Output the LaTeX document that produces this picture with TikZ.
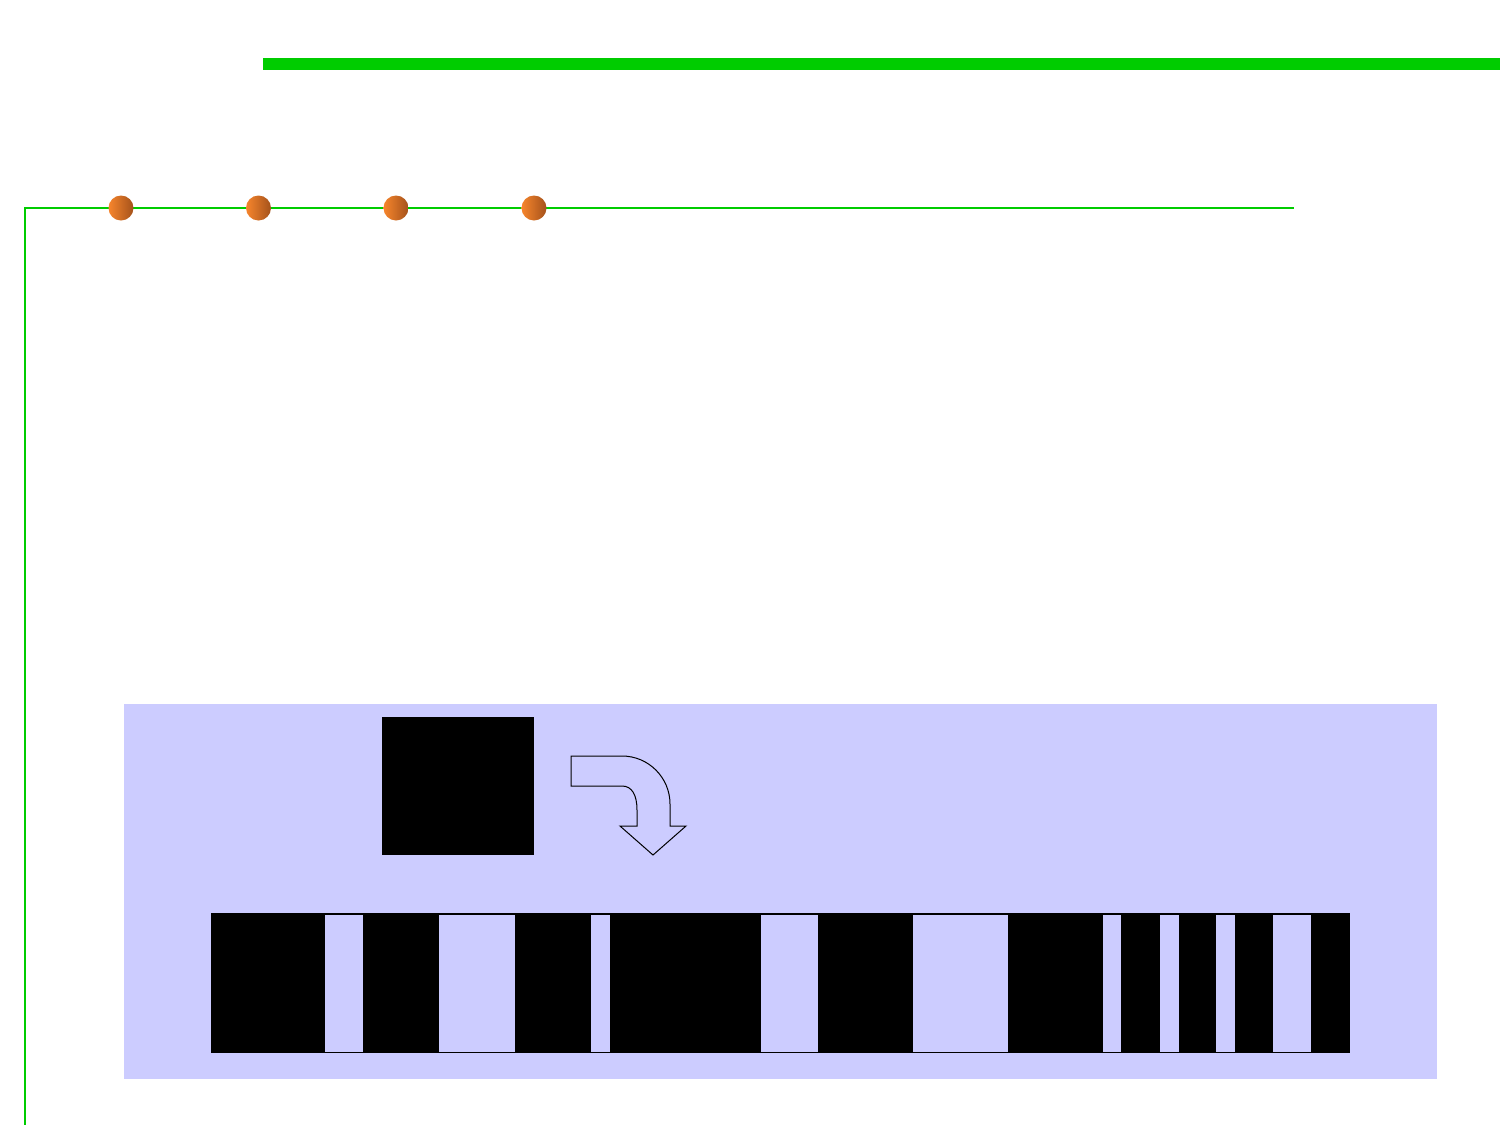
\documentclass[tikz,border=0pt]{standalone}
\usetikzlibrary{shapes.geometric}
\definecolor{lgreen}{HTML}{00CC00}
\definecolor{lav}{HTML}{CCCCFF}
\definecolor{dotA}{HTML}{F7852C}
\definecolor{dotB}{HTML}{A4521B}
\tikzset{
  dotnode/.style={circle, minimum size=25pt, inner sep=0pt, shading=axis, left color=dotA, right color=dotB, shading angle=90},
  gap/.style={fill=lav, draw=none},
}
\begin{document}
\begin{tikzpicture}[x=1pt, y=-1pt]
\useasboundingbox (0,0) rectangle (1500,1125);
\fill[white] (0,0) rectangle (1500,1125);
% top thick green bar
\fill[lgreen] (263,58) rectangle (1500,70);
% thin frame line
\coordinate (fb) at (25,1125);
\coordinate (fc) at (25,208);
\coordinate (fe) at (1294,208);
\draw[lgreen, line width=2pt] (fb) -- (fc) -- (fe);
% dots
\foreach \i/\x in {1/121, 2/258.5, 3/396, 4/534} {
  \node[dotnode, left color=dotA, right color=dotB] (d\i) at (\x,208) {};
}
% lavender panel
\fill[lav] (124,704) rectangle (1437,1079);
% black square
\node[fill=black, minimum width=152pt, minimum height=138pt, inner sep=0pt, anchor=north west] (sq) at (382,717) {};
% bent arrow
\draw[fill=lav, line width=1pt, line join=miter]
  (571,756) -- (622,756)
  .. controls (648.5,756) and (670,777.5) .. (670,804)
  -- (670,826) -- (686,826) -- (653,855) -- (620,826) -- (637,826) -- (637,810)
  .. controls (637,795) and (632,786) .. (622,786)
  -- (571,786) -- cycle;
% bar code
\node[fill=black, minimum width=1139pt, minimum height=140pt, inner sep=0pt, anchor=north west] (bar) at (211,913) {};
\foreach \a/\b in {325/363, 439/515, 591/610, 761/818, 913/1008, 1103/1121, 1160/1179, 1216/1235, 1273/1311} {
  \fill[gap] (\a,915) rectangle (\b,1052);
}
\end{tikzpicture}
\end{document}
